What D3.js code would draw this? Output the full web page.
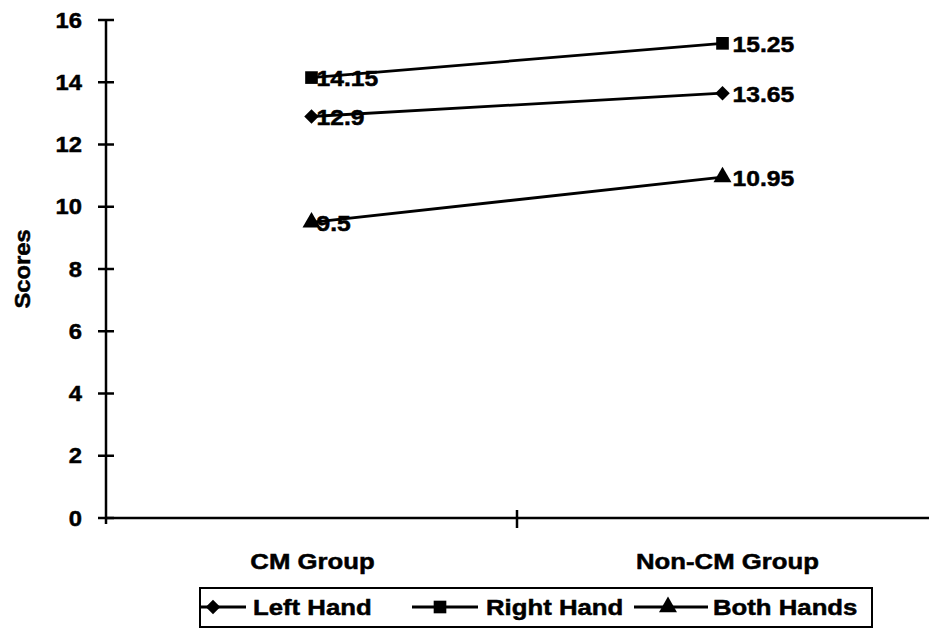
<!DOCTYPE html>
<html><head><meta charset="utf-8">
<script src="https://cdn.jsdelivr.net/npm/d3@7"></script>
<style>body{margin:0;background:#fff}svg{display:block}text{font-family:"Liberation Sans",Arial,sans-serif;font-weight:bold;fill:#000;stroke:#000;stroke-width:0.5px}</style>
</head><body>
<script>
const categories = ["CM Group", "Non-CM Group"];
const seriesNames = ["Left Hand", "Right Hand", "Both Hands"];
const leftHand = [12.9, 13.65];
const rightHand = [14.15, 15.25];
const bothHands = [9.5, 10.95];
const yTicks = [0, 2, 4, 6, 8, 10, 12, 14, 16];
const labels = {"Left Hand": ["12.9", "13.65"], "Right Hand": ["14.15", "15.25"], "Both Hands": ["9.5", "10.95"]};

const W = 929, H = 634;
const svg = d3.select("body").append("svg").attr("width", W).attr("height", H);
const x = d3.scaleBand().domain(categories).range([106, 928]);
const y = d3.scaleLinear().domain([0, 16]).range([518, 20]);
const cx = c => x(c) + x.bandwidth() / 2;

function txt(g, s, px, py, anchor, sx, size) {
  return g.append("text").attr("transform", `translate(${px},${py}) scale(${sx},1)`)
    .attr("text-anchor", anchor).attr("dominant-baseline", "central")
    .style("font-size", (size || 22) + "px").text(s);
}

// y axis
const ya = svg.append("g");
ya.append("line").attr("x1", 106).attr("x2", 106).attr("y1", y(16)).attr("y2", y(0) + 6).attr("stroke", "#000").attr("stroke-width", 2.5);
yTicks.forEach(t => {
  ya.append("line").attr("x1", 98).attr("x2", 114).attr("y1", y(t)).attr("y2", y(t)).attr("stroke", "#000").attr("stroke-width", 2.5);
  txt(ya, String(t), 82, y(t), "end", 1.08);
});
txt(svg, "Scores", 0, 0, "middle", 1.0).attr("transform", `translate(22,${(y(0)+y(16))/2}) rotate(-90) scale(1.08,1)`);

// x axis
const xa = svg.append("g");
xa.append("line").attr("x1", 106).attr("x2", W).attr("y1", y(0)).attr("y2", y(0)).attr("stroke", "#000").attr("stroke-width", 2.5);
const bounds = [x(categories[1])];
bounds.forEach(b => xa.append("line").attr("x1", b).attr("x2", b).attr("y1", y(0) - 8).attr("y2", y(0) + 10).attr("stroke", "#000").attr("stroke-width", 2.5));
categories.forEach((c, i) => txt(xa, c, cx(c) + (i === 0 ? 1 : 5), 561, "middle", 1.17));

const series = [
  {name: "Left Hand", values: leftHand, sym: d3.symbolSquare, size: 105, rot: 45},
  {name: "Right Hand", values: rightHand, sym: d3.symbolSquare, size: 160, rot: 0},
  {name: "Both Hands", values: bothHands, sym: d3.symbolTriangle, size: 140, rot: 0}
];
const line = d3.line().x((d, i) => cx(categories[i])).y(d => y(d));
series.forEach(s => {
  svg.append("path").attr("d", line(s.values)).attr("fill", "none").attr("stroke", "#000").attr("stroke-width", 2.8);
});
series.forEach(s => {
  s.values.forEach((v, i) => {
    svg.append("path").attr("d", d3.symbol(s.sym, s.size)()).attr("transform", `translate(${cx(categories[i])},${y(v)}) rotate(${s.rot})`).attr("fill", "#000");
  });
});
series.forEach(s => {
  s.values.forEach((v, i) => {
    txt(svg, labels[s.name][i], cx(categories[i]) + (i === 0 ? 5 : 10), y(v) + 1, "start", 1.12);
  });
});

// legend
const lg = svg.append("g");
lg.append("rect").attr("x", 200).attr("y", 588).attr("width", 672).attr("height", 39).attr("fill", "#fff").attr("stroke", "#000").attr("stroke-width", 2);
const lpos = [{l1: 201, l2: 246, m: 213, t: 253}, {l1: 412, l2: 478, m: 440, t: 486}, {l1: 634, l2: 708, m: 668, t: 713}];
series.forEach((s, i) => {
  const p = lpos[i], ly = 607;
  lg.append("line").attr("x1", p.l1).attr("x2", p.l2).attr("y1", ly).attr("y2", ly).attr("stroke", "#000").attr("stroke-width", 2.8);
  lg.append("path").attr("d", d3.symbol(s.sym, s.size)()).attr("transform", `translate(${p.m},${ly}) rotate(${s.rot})`).attr("fill", "#000");
  txt(lg, s.name, p.t, ly, "start", 1.17);
});
</script>
</body></html>
